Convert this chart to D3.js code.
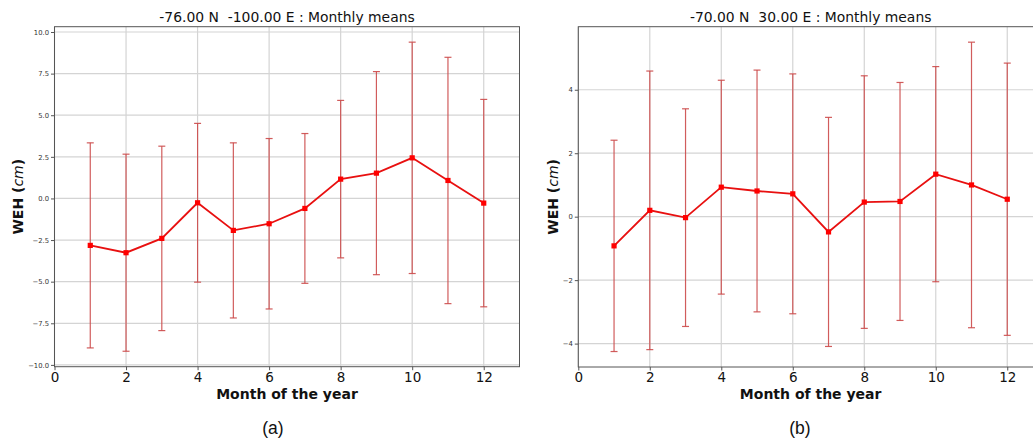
<!DOCTYPE html>
<html>
<head>
<meta charset="utf-8">
<script src="https://cdn.jsdelivr.net/npm/d3@7/dist/d3.min.js"></script>
<style>
  html, body { margin: 0; padding: 0; background: #fff; }
  svg { display: block; }
  text.keep-space { white-space: pre; }
</style>
</head>
<body>
<svg id="chart" width="1033" height="441"></svg>
<script>
// Months of the year (x positions of the monthly means)
const months = [1, 2, 3, 4, 5, 6, 7, 8, 9, 10, 11, 12];

// Panel (a): -76.00 N, -100.00 E — monthly mean WEH (cm) and its spread
const meanA = [-2.82, -3.26, -2.40, -0.26, -1.92, -1.52, -0.60, 1.16, 1.52, 2.44, 1.08, -0.28];
const errA  = [6.16, 5.92, 5.54, 4.77, 5.26, 5.12, 4.50, 4.73, 6.10, 6.95, 7.40, 6.23];

// Panel (b): -70.00 N, 30.00 E
const meanB = [-0.92, 0.20, -0.03, 0.93, 0.81, 0.72, -0.48, 0.46, 0.48, 1.34, 1.00, 0.55];
const errB  = [3.33, 4.39, 3.43, 3.37, 3.81, 3.78, 3.61, 3.98, 3.75, 3.39, 4.50, 4.29];

// Tick values
const xTicks = [0, 2, 4, 6, 8, 10, 12];
const yTicksA = [-10, -7.5, -5, -2.5, 0, 2.5, 5, 7.5, 10];
const yTicksB = [-4, -2, 0, 2, 4];

// Titles and captions
const titleA = "-76.00 N  -100.00 E : Monthly means";
const titleB = "-70.00 N  30.00 E : Monthly means";
const captionA = "(a)";
const captionB = "(b)";
const xLabel = "Month of the year";

const svg = d3.select("#chart");
const minus = s => s.replace("-", "\u2212");

function drawPanel(opts) {
  const { left, right, top, bottom, means, errs, yTicks, yFmt, title, caption, labelX } = opts;

  const lo = d3.min(means, (m, i) => m - errs[i]);
  const hi = d3.max(means, (m, i) => m + errs[i]);
  const pad = (hi - lo) * 0.05;

  const x = d3.scaleLinear().domain([0, 13]).range([left, right]);
  const y = d3.scaleLinear().domain([lo - pad, hi + pad]).range([bottom, top]);

  const g = svg.append("g");

  // grid
  g.append("g").selectAll("line").data(xTicks).join("line")
    .attr("x1", d => x(d)).attr("x2", d => x(d))
    .attr("y1", top).attr("y2", bottom)
    .attr("stroke", "#d4d4d4").attr("stroke-width", 1.2);
  g.append("g").selectAll("line").data(yTicks).join("line")
    .attr("x1", left).attr("x2", right)
    .attr("y1", d => y(d)).attr("y2", d => y(d))
    .attr("stroke", "#d4d4d4").attr("stroke-width", 1.2);

  // frame
  g.append("rect")
    .attr("x", left).attr("y", top)
    .attr("width", right - left).attr("height", bottom - top)
    .attr("fill", "none").attr("stroke", "#555").attr("stroke-width", 1);

  // y axis
  const yAxis = d3.axisLeft(y).tickValues(yTicks).tickFormat(d => minus(yFmt(d))).tickSize(3.5).tickPadding(2);
  const ya = g.append("g").attr("transform", `translate(${left},0)`).call(yAxis);
  ya.select(".domain").remove();
  ya.selectAll("line").attr("stroke", "#555");
  ya.selectAll("text").attr("font-family", "DejaVu Sans").attr("font-size", 6.8).attr("fill", "#333");

  // x axis
  const xAxis = d3.axisBottom(x).tickValues(xTicks).tickFormat(d3.format("d")).tickSize(3.5).tickPadding(2);
  const xa = g.append("g").attr("transform", `translate(0,${bottom})`).call(xAxis);
  xa.select(".domain").remove();
  xa.selectAll("line").attr("stroke", "#555");
  xa.selectAll("text").attr("font-family", "DejaVu Sans").attr("font-size", 13.5).attr("fill", "#111");

  // error bars
  const eb = g.append("g").attr("stroke", "#cc4a4a").attr("stroke-width", 1.2).attr("stroke-opacity", 0.9);
  eb.selectAll("line.v").data(months).join("line").attr("class", "v")
    .attr("x1", d => x(d)).attr("x2", d => x(d))
    .attr("y1", (d, i) => y(means[i] + errs[i])).attr("y2", (d, i) => y(means[i] - errs[i]));
  eb.selectAll("line.ct").data(months).join("line").attr("class", "ct")
    .attr("x1", d => x(d) - 3.5).attr("x2", d => x(d) + 3.5)
    .attr("y1", (d, i) => y(means[i] + errs[i])).attr("y2", (d, i) => y(means[i] + errs[i]));
  eb.selectAll("line.cb").data(months).join("line").attr("class", "cb")
    .attr("x1", d => x(d) - 3.5).attr("x2", d => x(d) + 3.5)
    .attr("y1", (d, i) => y(means[i] - errs[i])).attr("y2", (d, i) => y(means[i] - errs[i]));

  // mean line
  const line = d3.line().x(d => x(d)).y((d, i) => y(means[i]));
  g.append("path").datum(months).attr("d", line)
    .attr("fill", "none").attr("stroke", "#e81010").attr("stroke-width", 1.8);

  // square markers
  g.append("g").selectAll("rect").data(months).join("rect")
    .attr("x", d => x(d) - 2.6).attr("y", (d, i) => y(means[i]) - 2.6)
    .attr("width", 5.2).attr("height", 5.2).attr("fill", "#f00");

  // title (keeps the double space between coordinates)
  g.append("text").attr("class", "keep-space")
    .attr("x", (left + right) / 2).attr("y", top - 5)
    .attr("text-anchor", "middle")
    .attr("font-family", "DejaVu Sans").attr("font-size", 13.9).attr("fill", "#111")
    .text(title);

  // x label
  g.append("text")
    .attr("x", (left + right) / 2).attr("y", bottom + 32)
    .attr("text-anchor", "middle")
    .attr("font-family", "DejaVu Sans").attr("font-size", 14).attr("font-weight", "bold").attr("fill", "#111")
    .text(xLabel);

  // y label
  const yl = g.append("text").attr("class", "keep-space")
    .attr("transform", `translate(${labelX},${(top + bottom) / 2}) rotate(-90)`)
    .attr("text-anchor", "middle")
    .attr("font-family", "DejaVu Sans").attr("font-size", 14).attr("fill", "#111");
  yl.append("tspan").attr("font-weight", "bold").text("WEH (");
  yl.append("tspan").attr("font-style", "italic").text("cm");
  yl.append("tspan").attr("font-weight", "bold").text(")");

  // caption
  svg.append("text")
    .attr("x", opts.captionX).attr("y", 434)
    .attr("text-anchor", "middle")
    .attr("font-family", "Liberation Sans").attr("font-size", 17.5).attr("fill", "#111")
    .text(caption);
}

drawPanel({
  left: 54.5, right: 519.5, top: 26.7, bottom: 366.7,
  means: meanA, errs: errA, yTicks: yTicksA, yFmt: d3.format(".1f"),
  title: titleA, caption: captionA, captionX: 273, labelX: 23
});

drawPanel({
  left: 578.3, right: 1043, top: 26.7, bottom: 367,
  means: meanB, errs: errB, yTicks: yTicksB, yFmt: d3.format("d"),
  title: titleB, caption: captionB, captionX: 800, labelX: 558
});
</script>
</body>
</html>
